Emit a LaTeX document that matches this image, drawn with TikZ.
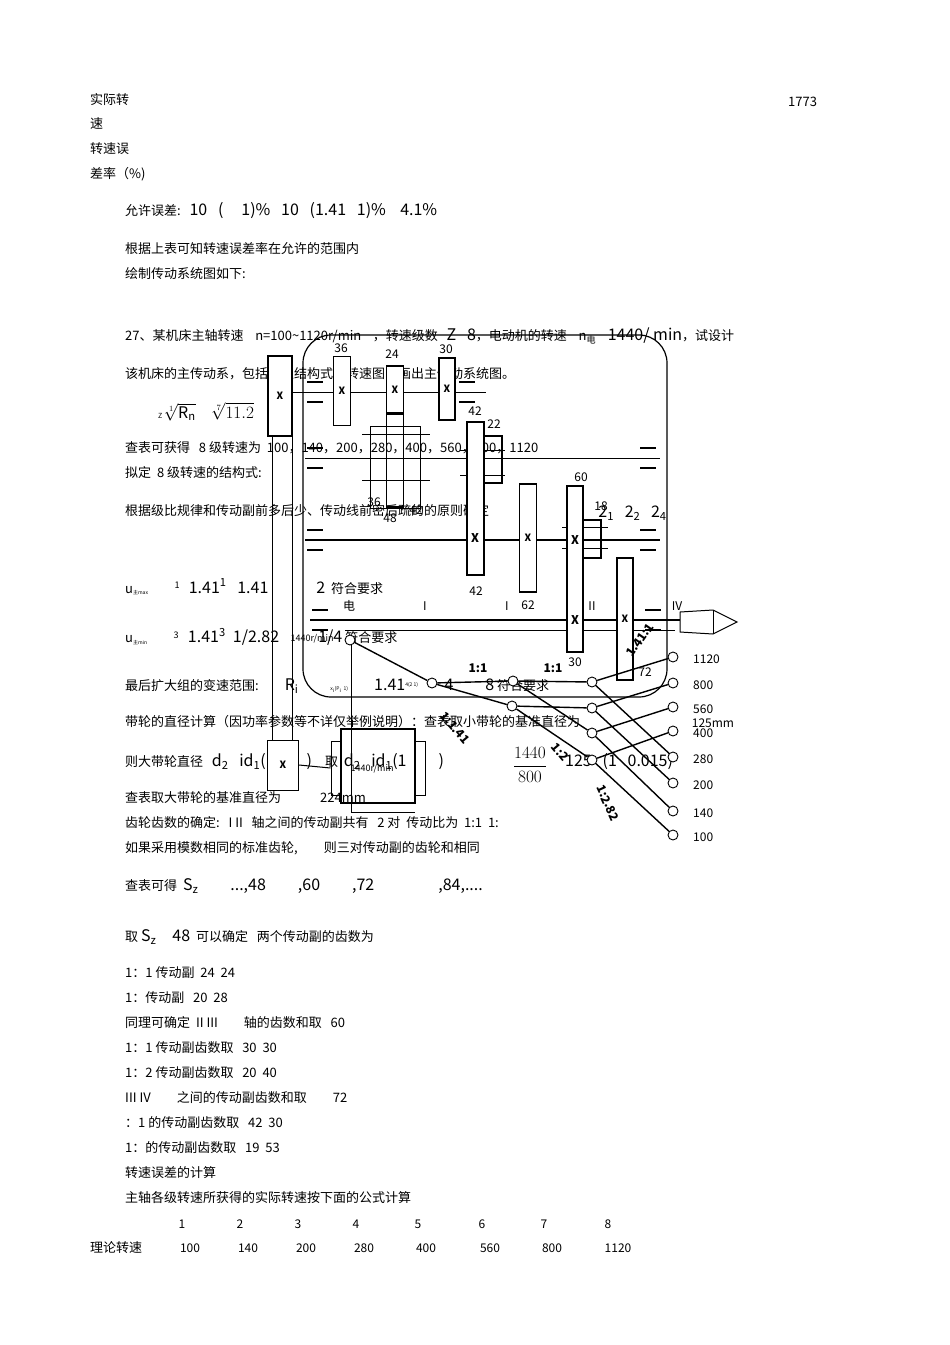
\documentclass[tikz,border=0pt]{standalone}
\usepackage{fontspec}
\setmainfont{Noto Sans CJK SC}
\newcommand\Lg{\fontsize{16}{18}\selectfont}
\begin{document}
\begin{tikzpicture}[x=1pt,y=-1pt,
 t/.style={anchor=west,inner sep=0pt,font=\fontsize{13}{15}\selectfont},
 n/.style={inner sep=0pt,font=\fontsize{12}{14}\selectfont},
 gear/.style={draw,line width=1.2pt,fill=white},
 sh/.style={line width=1pt},
 dot/.style={circle,draw,line width=0.9pt,fill=white,inner sep=0pt,minimum size=10pt},
 sl/.style={line width=1.4pt},
 bl/.style={inner sep=0pt,font=\bfseries\fontsize{12}{13}\selectfont}]
\useasboundingbox (0,0) rectangle (950,1345);
% ---- texts
\node[t] (a1) at (90,100) {实际转};
\node[t] (a2) at (90,124) {速};
\node[t] (a3) at (90,149) {转速误};
\node[t] (a4) at (90,174) {差率（\%)};
\node[t] (a5) at (788,102) {1773};
\node[t] (b1) at (125,211) {允许误差:\ \ \ {\Lg 10\ \ \ (\ \ \ \ \ 1)\%\ \ \ 10\ \ \ (1.41\ \ \ 1)\%\ \ \ \ 4.1\%}};
\node[t] (b2) at (125,249) {根据上表可知转速误差率在允许的范围内};
\node[t] (b3) at (125,274) {绘制传动系统图如下:};
\node[t] (c1) at (125,336) {27、某机床主轴转速\ \ \ \ n=100\textasciitilde1120r/min\ \ \ \ ，转速级数\ \ \ {\Lg Z\ \ \ 8}，电动机的转速\ \ \ \ n\textsubscript{电}\ \ \ \ {\Lg 1440/ min}，试设计};
\node[t] (c2) at (125,374) {该机床的主传动系，包括拟定结构式和转速图，画出主传动系统图。};
\node[t] (c3) at (158,412) {\scriptsize Z\;\Lg$\sqrt[1]{\mathrm{R_n}}$\quad $\sqrt[7]{11.2}$};
\node[t] (c4) at (125,448) {查表可获得\ \ \ 8 级转速为\ \ 100，140，200，280，400，560，800，1120};
\node[t] (c5) at (125,473) {拟定\ \ 8 级转速的结构式:};
\node[t] (c6) at (125,511) {根据级比规律和传动副前多后少、传动线前密后疏的的原则确定};
\node[t] (c7) at (575,513) {\Lg 8 \ \ \ 2\textsubscript{1}\ \ \ 2\textsubscript{2}\ \ \ 2\textsubscript{4}};
\node[t] (d1) at (125,587) {u\textsubscript{\tiny 主max}\qquad\textsuperscript{1}\ \ \ {\Lg 1.41\textsuperscript{1}\ \ \ 1.41\qquad\quad 2}\ \ 符合要求};
\node[t] (d2) at (125,637) {u\textsubscript{\tiny 主min}\qquad\textsuperscript{3}\ \ \ {\Lg 1.41\textsuperscript{3}\ \ 1/2.82\qquad\ \ 1/4} 符合要求};
\node[t] (d3) at (125,686) {最后扩大组的变速范围:\qquad {\Lg R\textsubscript{i}}\qquad\ \ {\tiny x\textsubscript{i}(P\textsubscript{i}\ \ 1)}\qquad {\Lg 1.41}\textsuperscript{\tiny 4(2\ 1)}\qquad {\Lg 4}\qquad\ \ {\Lg 8} 符合要求};
\node[t] (d4) at (125,722) {带轮的直径计算（因功率参数等不详仅举例说明）：查表取小带轮的基准直径为};
\node[n] (d4b) at (713,723) {125mm};
\node[t] (d5) at (125,762) {则大带轮直径\ \ \ {\Lg d\textsubscript{2}\ \ \ id\textsubscript{1}(1\qquad )}\quad 取\ \ {\Lg d\textsubscript{2}\ \ \ id\textsubscript{1}(1\qquad )}};
\node[n] (d5f) at (530,765) {\Lg$\displaystyle\frac{1440}{800}$};
\node[t] (d5g) at (565,762) {\Lg 125\ \ \ (1\ \ \ 0.015)};
\node[t] (d6) at (125,798) {查表取大带轮的基准直径为\qquad\quad 224mm};
\node[t] (d7) at (125,823) {齿轮齿数的确定:\ \ \ I II\ \ \ 轴之间的传动副共有\ \ \ 2 对\ \ 传动比为\ \ 1:1\ \ 1:};
\node[t] (d8) at (125,848) {如果采用模数相同的标准齿轮,\qquad 则三对传动副的齿轮和相同};
\node[t] (e1) at (125,886) {查表可得\ \ {\Lg S\textsubscript{z}\qquad ...,48\qquad ,60\qquad ,72\qquad\qquad ,84,....}};
\node[t] (e2) at (125,937) {取 {\Lg S\textsubscript{z}\quad 48}\ \ 可以确定\ \ \ 两个传动副的齿数为};
\node[t] (f1) at (125,973) {1：1 传动副\ \ 24\ \ 24};
\node[t] (f2) at (125,998) {1：传动副\ \ \ 20\ \ 28};
\node[t] (f3) at (125,1023) {同理可确定\ \ II III\qquad 轴的齿数和取\ \ \ 60};
\node[t] (f4) at (125,1048) {1：1 传动副齿数取\ \ \ 30\ \ 30};
\node[t] (f5) at (125,1073) {1：2 传动副齿数取\ \ \ 20\ \ 40};
\node[t] (f6) at (125,1098) {III IV\qquad 之间的传动副齿数和取\qquad 72};
\node[t] (f7) at (125,1123) {：1 的传动副齿数取\ \ \ 42\ \ 30};
\node[t] (f8) at (125,1148) {1：的传动副齿数取\ \ \ 19\ \ 53};
\node[t] (f9) at (125,1173) {转速误差的计算};
\node[t] (f10) at (125,1198) {主轴各级转速所获得的实际转速按下面的公式计算};
\foreach \i/\x in {1/182,2/240,3/298,4/356,5/418,6/482,7/544,8/608}{\node[n] (h\i) at (\x,1224) {\i};}
\node[t] (r0) at (90,1248) {理论转速};
\foreach \v/\x in {100/190,140/248,200/306,280/364,400/426,560/490,800/552,1120/618}{\node[n] (r\v) at (\x,1248) {\v};}
% ---- frame
\draw[line width=1.2pt,rounded corners=28pt] (303,335) rectangle (667,697);
% belt drive
\draw[sh] (272,400) -- (272,742) (292,400) -- (292,742);
\node[gear,minimum width=24pt,minimum height=80pt] (pul) at (280,396) {\bfseries X};
\node[draw,line width=1pt,minimum width=31pt,minimum height=50pt,fill=white] (sp) at (283,765) {\bfseries X};
\node[draw,line width=1.2pt,minimum width=74pt,minimum height=74pt] (mot) at (378,766) {};
\node[draw,line width=1pt,minimum width=10pt,minimum height=54pt] (fl1) at (336,768) {};
\node[draw,line width=1pt,minimum width=10pt,minimum height=54pt] (fl2) at (420,768) {};
\node[n] (mr) at (372,769) {\small 1440r/min};
\node[n] (mr2) at (312,639) {\small 1440r/min};
\draw[sh] (sp.east) -- (fl1.west);
\draw[line width=1pt] (351,638) -- (351,812) -- (415,812);
% shafts
\draw[sh] (292,392) -- (486,392);
\draw[sh] (305,458) -- (660,458);
\draw[line width=1.6pt] (305,540) -- (660,540);
\draw[line width=1.6pt] (310,620) -- (680,620);
\draw[sh] (345,630) -- (675,630);
\foreach \x/\y in {315/392,467/392,315/458,648/458,315/540,648/540,320/620,653/620}{
 \draw[line width=1.2pt] (\x-8,\y-10) -- (\x+8,\y-10) (\x-8,\y+10) -- (\x+8,\y+10);}
\draw[line width=1pt,fill=white] (680,612) -- (713,610) -- (737,622) -- (713,634) -- (680,632) -- cycle;
\draw (713,610) -- (713,634);
% gears
\draw[line width=0.8pt] (370,426) rectangle (420,508);
\draw[line width=0.6pt] (362,434) -- (430,434) (362,480) -- (430,480);
\node[gear,minimum width=17pt,minimum height=69pt] (g36) at (342,391) {\bfseries X};
\node[gear,minimum width=17pt,minimum height=48pt] (g24) at (395,390) {\bfseries X};
\node[draw,line width=1.2pt,minimum width=17pt,minimum height=94pt] (g48) at (395,460) {};
\node[gear,minimum width=16pt,minimum height=62pt] (g30) at (447,389) {\bfseries X};
\draw[line width=1.2pt] (484,436) rectangle (502,483);
\draw[line width=0.6pt] (460,450) -- (505,450) (460,475) -- (505,475);
\draw[line width=1.2pt,fill=white] (467,422) rectangle (484,575);
\node[bl] (x1) at (475,538) {X};
\node[gear,minimum width=17pt,minimum height=108pt] (g62) at (528,538) {\bfseries X};
\draw[line width=1.2pt] (583,520) rectangle (601,558);
\draw[line width=0.6pt] (562,527) -- (608,527) (562,548) -- (608,548);
\draw[line width=1.2pt,fill=white] (567,486) rectangle (583,652);
\node[bl] (x2) at (575,540) {X};
\node[bl] (x3) at (575,620) {X};
\node[gear,minimum width=16pt,minimum height=122pt] (g72) at (625,619) {\bfseries X};
% gear labels
\foreach \s/\x/\y in {36/341/348, 24/392/354, 30/446/349, 42/475/411, 22/494/424, 60/581/477, 18/601/506, 42/476/591, 62/528/605, 30/575/662, 72/645/672}{\node[n] at (\x,\y) {\s};}
\node[n] (l36) at (374,502) {36};
\node[n] (l48) at (390,518) {48};
\node[n] (l42b) at (416,510) {42};
\node[n] (s0) at (349,606) {电};
\node[n] (s1) at (425,606) {I};
\node[n] (s2) at (507,606) {I};
\node[n] (s3) at (592,606) {II};
\node[n] (s4) at (677,606) {IV};
% speed diagram
\node[dot] (p0) at (350,640) {};
\node[dot] (p1) at (432,683) {};
\node[dot] (q1) at (513,681) {};
\node[dot] (q2) at (512,706) {};
\node[dot] (m1) at (592,682) {};
\node[dot] (m2) at (592,708) {};
\node[dot] (m3) at (592,733) {};
\node[dot] (m4) at (592,760) {};
\foreach \i/\y/\v in {1/657/1120,2/683/800,3/707/560,4/731/400,5/757/280,6/783/200,7/811/140,8/835/100}{
 \node[dot] (o\i) at (673,\y) {};
 \node[n,anchor=west] (ol\i) at (693,\y+2) {\v};}
\draw[sl] (p0) -- (p1);
\draw[sl] (p1) -- (q1) -- (m1);
\draw[sl] (p1) -- (q2) -- (m2);
\draw[sl] (q1) -- (m3);
\draw[sl] (q2) -- (m4);
\draw[sl] (m1) -- (o1); \draw[sl] (m1) -- (o5);
\draw[sl] (m2) -- (o2); \draw[sl] (m2) -- (o6);
\draw[sl] (m3) -- (o3); \draw[sl] (m3) -- (o7);
\draw[sl] (m4) -- (o4); \draw[sl] (m4) -- (o8);
\node[bl] at (478,668) {1:1};
\node[bl] at (553,668) {1:1};
\node[bl,rotate=55] at (640,640) {1.41:1};
\node[bl,rotate=-50] at (455,728) {1:1.41};
\node[bl,rotate=-50] at (560,752) {1:2};
\node[bl,rotate=-65] at (608,803) {1:2.82};
\end{tikzpicture}
\end{document}
